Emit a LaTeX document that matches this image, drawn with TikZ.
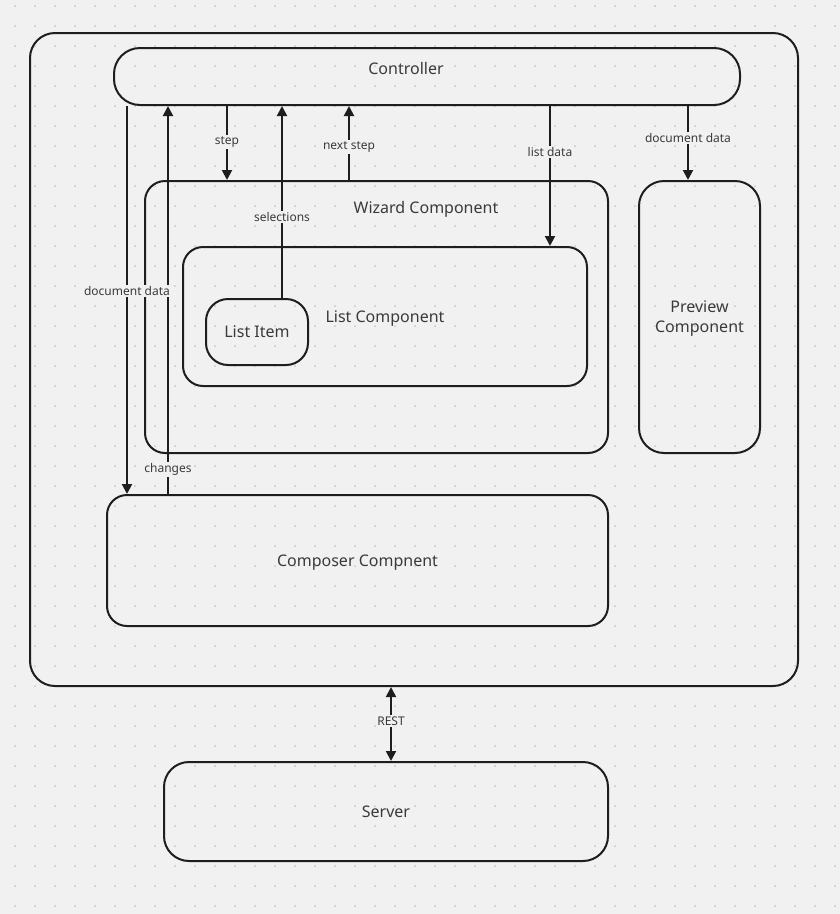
\documentclass[tikz,border=0pt]{standalone}
\usepackage{fontspec}
\setmainfont{Noto Sans}
\usetikzlibrary{arrows.meta}
\definecolor{bgc}{HTML}{F1F1F1}
\definecolor{dotc}{HTML}{C6C6C6}
\definecolor{linec}{HTML}{1E1E1E}
\definecolor{txtc}{HTML}{3A3A3A}
\tikzset{
	box/.style={draw=linec, line width=2pt, rounded corners=20pt, inner sep=0pt, text=txtc, font=\fontsize{16}{20}\selectfont, align=center, text depth=0pt},
	flow/.style={draw=linec, line width=2pt, -{Triangle[length=10pt,width=10pt]}},
	both/.style={draw=linec, line width=2pt, {Triangle[length=10pt,width=10pt]}-{Triangle[length=10pt,width=10pt]}},
	tag/.style={fill=bgc, text=txtc, font=\fontsize{12}{14}\selectfont, inner sep=1.5pt},
	title/.style={text=txtc, font=\fontsize{16}{20}\selectfont},
}

\begin{document}
\begin{tikzpicture}[x=1pt,y=-1pt]
			%%%%% BACKGROUND %%%%%
			\fill[bgc] (0,0) rectangle (840,914);
			\useasboundingbox (0,0) rectangle (840,914);
			\foreach \i in {0,...,41}
				\foreach \j in {0,...,45}
					\fill[dotc] (15+20*\i, 6+20*\j) circle (1pt);
			
			%%%%% BOXES %%%%%
			\node[box, rounded corners=25pt, minimum width=768pt, minimum height=653pt] (app) at (414, 359.5) {};
			\node[box, rounded corners=26pt, minimum width=626pt, minimum height=57pt] (ctrl) at (427, 76.5) {};
			\node[title] (ctrltext) at (406, 68) {Controller};
			
			\node[box, minimum width=463pt, minimum height=272pt] (wizard) at (376.5, 317) {};
			\node[title] (wiztext) at (426, 209.5) {Wizard Component};
			\node[box, minimum width=404pt, minimum height=139pt] (listcomp) at (385, 316.5) {List Component};
			\node[box, rounded corners=22pt, minimum width=102pt, minimum height=66pt] (listitem) at (257, 332) {List Item};
			
			\node[box, rounded corners=25pt, minimum width=121pt, minimum height=272pt] (preview) at (699.5, 317) {Preview\\Component};
			\node[box, minimum width=501pt, minimum height=131pt] (composer) at (357.5, 560.5) {Composer Compnent};
			\node[box, rounded corners=25pt, minimum width=444pt, minimum height=99pt] (server) at (386, 811.5) {Server};
			
			%%%%% CONNECTORS %%%%%
			\draw[flow] (composer.north -| 168,0) -- node[tag, pos=0.064] {changes} (ctrl.south -| 168,0);
			\draw[flow] (ctrl.south -| 127,0) -- node[tag, pos=0.477] {document data} (composer.north -| 127,0);
			\draw[flow] (ctrl.south -| 227,0) -- node[tag, pos=0.49] {step} (wizard.north -| 227,0);
			\draw[flow] (listitem.north -| 282,0) -- node[tag, pos=0.42] {selections} (ctrl.south -| 282,0);
			\draw[flow] (wizard.north -| 349,0) -- node[tag, pos=0.45] {next step} (ctrl.south -| 349,0);
			\draw[flow] (ctrl.south -| 550,0) -- node[tag, pos=0.33] {list data} (listcomp.north -| 550,0);
			\draw[flow] (ctrl.south -| 688,0) -- node[tag, pos=0.43] {document data} (preview.north -| 688,0);
			\draw[both] (app.south -| 391,0) -- node[tag, pos=0.46] {REST} (server.north -| 391,0);
\end{tikzpicture}
\end{document}
